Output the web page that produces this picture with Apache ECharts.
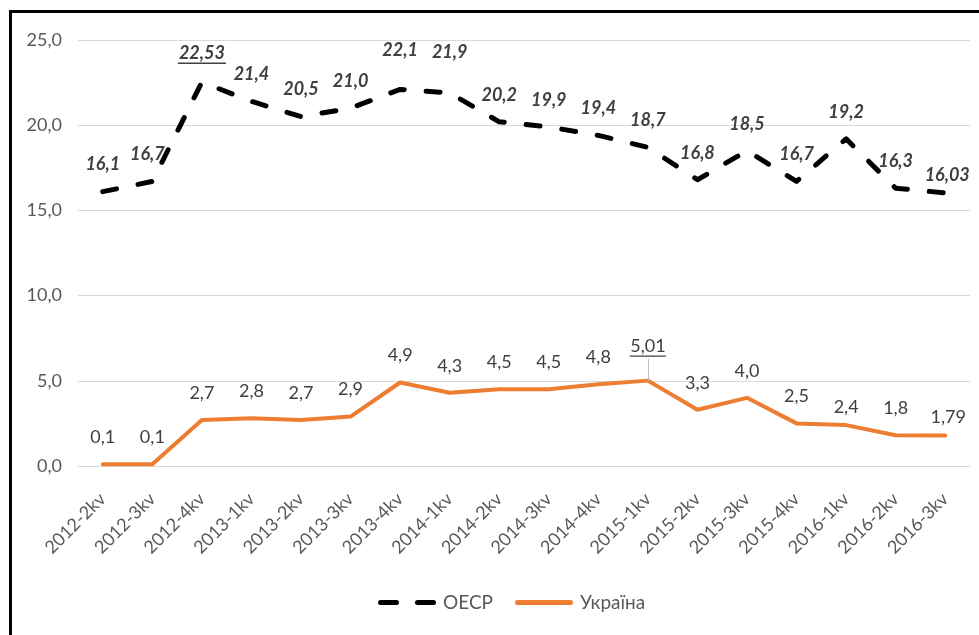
<!DOCTYPE html>
<html><head><meta charset="utf-8">
<script src="https://cdn.jsdelivr.net/npm/echarts@6/dist/echarts.min.js"></script>
<style>
html,body{margin:0;padding:0;background:#fff;overflow:hidden}
#c{position:absolute;left:0;top:0;width:979px;height:635px}
#frame{position:absolute;left:9px;top:10px;width:1000px;height:700px;border:3px solid #000;pointer-events:none}
</style></head>
<body>
<div id="c"></div>
<div id="frame"></div>
<script>
const categories = ['2012-2kv','2012-3kv','2012-4kv','2013-1kv','2013-2kv','2013-3kv','2013-4kv','2014-1kv','2014-2kv','2014-3kv','2014-4kv','2015-1kv','2015-2kv','2015-3kv','2015-4kv','2016-1kv','2016-2kv','2016-3kv'];
const oecd = [16.1, 16.7, 22.53, 21.4, 20.5, 21.0, 22.1, 21.9, 20.2, 19.9, 19.4, 18.7, 16.8, 18.5, 16.7, 19.2, 16.3, 16.03];
const ukraine = [0.1, 0.1, 2.7, 2.8, 2.7, 2.9, 4.9, 4.3, 4.5, 4.5, 4.8, 5.01, 3.3, 4.0, 2.5, 2.4, 1.8, 1.79];
const oecdLabels = ['16,1','16,7','22,53','21,4','20,5','21,0','22,1','21,9','20,2','19,9','19,4','18,7','16,8','18,5','16,7','19,2','16,3','16,03'];
const ukraineLabels = ['0,1','0,1','2,7','2,8','2,7','2,9','4,9','4,3','4,5','4,5','4,8','5,01','3,3','4,0','2,5','2,4','1,8','1,79'];
const yTicks = ['0,0','5,0','10,0','15,0','20,0','25,0'];

const oecdUnderline = {2: true};
const uaUnderline = {11: true};
const oecdOffsets = {1: [-5, 0], 6: [0, -12], 7: [0, -14], 17: [2, 9]};
const uaOffsets = {11: [0, -6], 15: [0, 9], 17: [3, 9]};

function build(vals, labels, underline, offsets) {
  return vals.map((v, i) => {
    const d = {value: v};
    const lab = {};
    if (offsets[i]) lab.offset = offsets[i];
    if (underline[i]) lab.formatter = '{v|' + labels[i] + '}\n{u|}';
    if (Object.keys(lab).length) d.label = lab;
    return d;
  });
}

const chart = echarts.init(document.getElementById('c'), null, {renderer: 'canvas'});
chart.setOption({
  animation: false,
  backgroundColor: '#fff',
  grid: {left: 78, right: 9, top: 40, bottom: 169, containLabel: false},
  xAxis: {
    type: 'category', data: categories, boundaryGap: true,
    axisLine: {show: true, lineStyle: {color: '#d9d9d9', width: 1}},
    axisTick: {show: false},
    axisLabel: {rotate: 45, color: '#595959', fontFamily: 'Lato', fontSize: 18, margin: 30, interval: 0}
  },
  yAxis: {
    type: 'value', min: 0, max: 25, interval: 5,
    axisLine: {show: false}, axisTick: {show: false},
    splitLine: {lineStyle: {color: '#d9d9d9', width: 1}},
    axisLabel: {color: '#595959', fontFamily: 'Lato', fontSize: 18, margin: 16,
      formatter: (v) => yTicks[Math.round(v / 5)]}
  },
  legend: {
    bottom: 18, left: 373, itemWidth: 58, itemHeight: 5, itemGap: 22,
    symbolKeepAspect: false,
    textStyle: {color: '#595959', fontFamily: 'Lato', fontSize: 19, padding: [0, 0, 0, 2]},
    data: [
      {name: 'OECP', icon: 'path://M2.5,0h16a2.5,2.5 0 0 1 0,5h-16a2.5,2.5 0 0 1 0,-5z M39.5,0h16a2.5,2.5 0 0 1 0,5h-16a2.5,2.5 0 0 1 0,-5z'},
      {name: 'Україна', icon: 'path://M2,0.5h54a2,2 0 0 1 0,4h-54a2,2 0 0 1 0,-4z'}
    ]
  },
  series: [
    {
      name: 'OECP', type: 'line', data: build(oecd, oecdLabels, oecdUnderline, oecdOffsets),
      symbol: 'circle', symbolSize: 0, showSymbol: true, smooth: false,
      lineStyle: {color: '#000', width: 5, type: [14, 22], cap: 'round', join: 'round'},
      itemStyle: {color: '#000'},
      label: {
        show: true, position: 'top', distance: 18,
        color: '#404040', fontFamily: 'Lato', fontSize: 18, fontWeight: 'bold', fontStyle: 'italic',
        formatter: (p) => oecdLabels[p.dataIndex],
        rich: {
          v: {color: '#404040', fontFamily: 'Lato', fontSize: 18, fontWeight: 'bold', fontStyle: 'italic'},
          u: {width: 48, height: 1.5, backgroundColor: '#404040'}
        }
      }
    },
    {
      name: 'Україна', type: 'line', data: build(ukraine, ukraineLabels, uaUnderline, uaOffsets),
      symbol: 'circle', symbolSize: 0, showSymbol: true, smooth: false,
      lineStyle: {color: '#ED7D31', width: 4, cap: 'round', join: 'round'},
      itemStyle: {color: '#ED7D31'},
      label: {
        show: true, position: 'top', distance: 18,
        color: '#404040', fontFamily: 'Lato', fontSize: 18,
        formatter: (p) => ukraineLabels[p.dataIndex],
        rich: {
          v: {color: '#404040', fontFamily: 'Lato', fontSize: 18},
          u: {width: 36, height: 1.2, backgroundColor: '#404040'}
        }
      },
      markLine: {
        silent: true, symbol: 'none', label: {show: false},
        lineStyle: {color: '#bfbfbf', width: 1, type: 'solid'},
        data: [[{coord: [categories[11], ukraine[11]]}, {coord: [categories[11], 6.3]}]]
      }
    }
  ]
});
</script>
</body></html>
